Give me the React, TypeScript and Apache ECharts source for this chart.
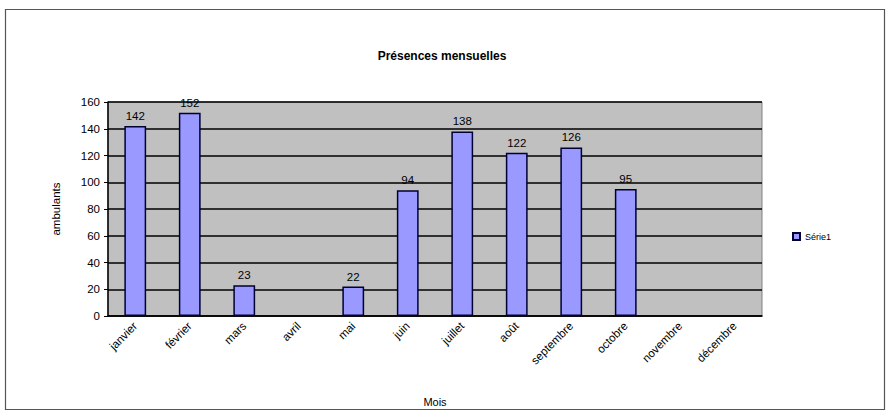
import React, { useEffect, useRef } from "react";
import * as echarts from "echarts";

const months = ["janvier", "février", "mars", "avril", "mai", "juin", "juillet", "août", "septembre", "octobre", "novembre", "décembre"];
const values: (number | null)[] = [142, 152, 23, null, 22, 94, 138, 122, 126, 95, null, null];
const seriesName = "Série1";
const yTicks = { min: 0, max: 160, interval: 20 };

export default function App() {
  const ref = useRef<HTMLDivElement>(null);
  useEffect(() => {
    const chart = echarts.init(ref.current!, null, { renderer: "svg" });
    const font = "Liberation Sans, Arial, sans-serif";
    chart.setOption({
      animation: false,
      backgroundColor: "#ffffff",
      textStyle: { fontFamily: font, color: "#000" },
      title: {
        text: "Présences mensuelles",
        left: 437,
        top: 45,
        textAlign: "center",
        textStyle: { fontSize: 12, fontWeight: "bold", color: "#000", fontFamily: font },
      },
      graphic: [
        {
          type: "rect",
          shape: { x: 5.5, y: 9.5, width: 879, height: 400 },
          style: { fill: "none", stroke: "#555", lineWidth: 1.2 },
          silent: true,
        },
      ],
      legend: {
        data: [seriesName],
        left: 787,
        top: 227,
        itemWidth: 7,
        itemHeight: 7,
        itemGap: 4,
        textStyle: { fontSize: 9, color: "#000", fontFamily: font },
        icon: "rect",
      },
      grid: {
        left: 108,
        right: 887 - 762,
        top: 102,
        bottom: 412 - 318,
        show: true,
        backgroundColor: "#c0c0c0",
        borderColor: "#808080",
        borderWidth: 1,
      },
      xAxis: {
        type: "category",
        data: months,
        name: "Mois",
        nameLocation: "middle",
        nameGap: 80,
        nameTextStyle: { fontSize: 11, color: "#000" },
        axisLine: { lineStyle: { color: "#000", width: 1.5 } },
        axisTick: { show: false },
        axisLabel: { rotate: 45, fontSize: 11.5, color: "#000", margin: 8, interval: 0 },
      },
      yAxis: {
        type: "value",
        min: yTicks.min,
        max: yTicks.max,
        interval: yTicks.interval,
        name: "ambulants",
        nameLocation: "middle",
        nameGap: 46,
        nameTextStyle: { fontSize: 11.5, color: "#000" },
        axisLine: { show: true, lineStyle: { color: "#000", width: 1.5 } },
        axisTick: { show: true, length: 4, lineStyle: { color: "#000" } },
        axisLabel: { fontSize: 11.5, color: "#000", margin: 8 },
        splitLine: { lineStyle: { color: "#000", width: 1.5 } },
      },
      series: [
        {
          name: seriesName,
          type: "bar",
          data: values,
          barWidth: "40%",
          itemStyle: { color: "#9999ff", borderColor: "#000033", borderWidth: 1.5 },
          label: { show: true, position: "top", fontSize: 11.5, color: "#000", distance: 4 },
        },
      ],
    });
    return () => chart.dispose();
  }, []);
  return <div ref={ref} style={{ position: "fixed", left: 0, top: 0, width: 887, height: 412 }} />;
}
